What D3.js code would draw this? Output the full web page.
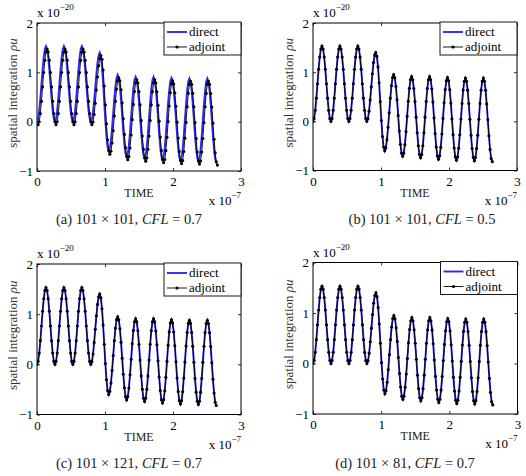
<!DOCTYPE html>
<html><head><meta charset="utf-8">
<script src="https://cdn.jsdelivr.net/npm/d3@7"></script>
<style>
body{margin:0;background:#fff}
svg text{font-family:"Liberation Serif","Times New Roman",Times,"DejaVu Serif",serif !important}
</style>
</head><body>
<svg id="chart" width="526" height="476"></svg>
<script>
// time between samples, in units of 1e-7
const timeStep = 0.01648;

// direct solution, spatial integration of rho*u (units 1e-20)
const direct = [
0, 0.058, 0.224, 0.472, 0.765, 1.058, 1.306, 1.472, 1.53,
1.472, 1.306, 1.058, 0.765, 0.472, 0.224, 0.058, 0,
0.058, 0.224, 0.472, 0.765, 1.058, 1.306, 1.472, 1.53,
1.472, 1.306, 1.058, 0.765, 0.472, 0.224, 0.058, 0,
0.058, 0.224, 0.472, 0.765, 1.058, 1.306, 1.472, 1.53,
1.472, 1.306, 1.058, 0.765, 0.472, 0.224, 0.058, 0,
0.053, 0.205, 0.432, 0.70, 0.968, 1.195, 1.347, 1.40,
1.324, 1.107, 0.783, 0.40, 0.017, -0.307, -0.524, -0.60,
-0.541, -0.373, -0.122, 0.175, 0.472, 0.723, 0.891, 0.95,
0.887, 0.707, 0.438, 0.12, -0.198, -0.467, -0.647, -0.71,
-0.648, -0.473, -0.210, 0.10, 0.410, 0.673, 0.848, 0.91,
0.847, 0.668, 0.401, 0.085, -0.231, -0.498, -0.677, -0.74,
-0.677, -0.498, -0.231, 0.085, 0.401, 0.668, 0.847, 0.91,
0.846, 0.664, 0.391, 0.07, -0.251, -0.524, -0.706, -0.77,
-0.707, -0.527, -0.258, 0.06, 0.378, 0.647, 0.827, 0.89,
0.826, 0.644, 0.371, 0.05, -0.271, -0.544, -0.726, -0.79,
-0.726, -0.546, -0.274, 0.045, 0.364, 0.636, 0.816, 0.88,
0.816, 0.634, 0.361, 0.04, -0.281, -0.554, -0.736, -0.80,
-0.736, -0.554, -0.281, 0.04, 0.361, 0.634, 0.816, 0.88,
0.815, 0.631, 0.355, 0.03, -0.295, -0.571, -0.755, -0.82
];

// adjoint, panel (a): lags the direct solution slightly and sits a bit lower
const adjointA = [
-0.06,
-0.06, -0.002, 0.164, 0.412, 0.705, 0.998, 1.246, 1.412, 1.47,
1.412, 1.246, 0.998, 0.705, 0.412, 0.164, -0.002, -0.06,
-0.002, 0.164, 0.412, 0.705, 0.998, 1.246, 1.412, 1.47,
1.412, 1.246, 0.998, 0.705, 0.412, 0.164, -0.002, -0.06,
-0.002, 0.164, 0.412, 0.705, 0.998, 1.246, 1.412, 1.47,
1.412, 1.246, 0.998, 0.705, 0.412, 0.164, -0.002, -0.06,
-0.007, 0.145, 0.372, 0.64, 0.908, 1.135, 1.287, 1.34,
1.264, 1.047, 0.723, 0.34, -0.043, -0.367, -0.584, -0.66,
-0.601, -0.433, -0.182, 0.115, 0.412, 0.663, 0.831, 0.89,
0.827, 0.647, 0.378, 0.06, -0.258, -0.527, -0.707, -0.77,
-0.708, -0.533, -0.27, 0.04, 0.35, 0.613, 0.788, 0.85,
0.787, 0.608, 0.341, 0.025, -0.291, -0.558, -0.737, -0.80,
-0.737, -0.558, -0.291, 0.025, 0.341, 0.608, 0.787, 0.85,
0.786, 0.604, 0.331, 0.01, -0.311, -0.584, -0.766, -0.83,
-0.767, -0.587, -0.318, 0.0, 0.318, 0.587, 0.767, 0.83,
0.766, 0.584, 0.311, -0.01, -0.331, -0.604, -0.786, -0.85,
-0.786, -0.606, -0.334, -0.015, 0.304, 0.576, 0.756, 0.82,
0.756, 0.574, 0.301, -0.02, -0.341, -0.614, -0.796, -0.86,
-0.796, -0.614, -0.341, -0.02, 0.301, 0.574, 0.756, 0.82,
0.755, 0.571, 0.295, -0.03, -0.355, -0.631, -0.815, -0.88
];

// adjoint for panels (b), (c), (d): read as coinciding with the direct curve
const adjointB = direct;
const adjointC = direct;
const adjointD = direct;

const xTicks = [0, 1, 2, 3];
const yTicks = [-1, 0, 1, 2];
const seriesNames = ["direct", "adjoint"];
const captionLetters = ["(a)", "(b)", "(c)", "(d)"];
const captionGrids = ["101 × 101", "101 × 101", "101 × 121", "101 × 81"];
const captionCFL = ["0.7", "0.5", "0.7", "0.7"];
const adjoints = [adjointA, adjointB, adjointC, adjointD];

const layouts = [
  {x0:37,  x1:241,   y0:23,    y1:171,   capX:129, capY:224},
  {x0:313, x1:517,   y0:23,    y1:170.5, capX:422, capY:224},
  {x0:37,  x1:241,   y0:264,   y1:414.5, capX:129, capY:468},
  {x0:313, x1:517.5, y0:262.5, y1:414,   capX:405, capY:468}
];

const FONT = '"Liberation Serif","Times New Roman",Times,"DejaVu Serif",serif';
const svg = d3.select("#chart");
const BLUE = "#2a2af5";

layouts.forEach((L, i) => {
  const x = d3.scaleLinear().domain([0, 3]).range([L.x0, L.x1]);
  const y = d3.scaleLinear().domain([-1, 2]).range([L.y1, L.y0]);
  const g = svg.append("g");

  const clipId = "clip" + i;
  svg.append("clipPath").attr("id", clipId).append("rect")
    .attr("x", L.x0).attr("y", L.y0).attr("width", L.x1 - L.x0).attr("height", L.y1 - L.y0);

  const line = d3.line().x((d, j) => x(j * timeStep)).y(d => y(d));
  const plot = g.append("g").attr("clip-path", `url(#${clipId})`);
  plot.append("path").datum(direct).attr("d", line)
    .attr("fill", "none").attr("stroke", BLUE).attr("stroke-width", 1.9);
  const adj = adjoints[i];
  plot.append("path").datum(adj).attr("d", line)
    .attr("fill", "none").attr("stroke", "#000").attr("stroke-width", 0.9);
  plot.selectAll("circle").data(adj).join("circle")
    .attr("cx", (d, j) => x(j * timeStep)).attr("cy", d => y(d))
    .attr("r", 1.55).attr("fill", "#000");

  // axes (ticks inside, box on)
  const fmt = d3.format("d");
  const ax = (gen) => gen.tickSizeOuter(0).tickSizeInner(-3);
  g.append("g").attr("transform", `translate(0,${L.y1})`)
    .call(ax(d3.axisBottom(x).tickValues(xTicks).tickFormat(fmt)).tickPadding(6));
  g.append("g").attr("transform", `translate(${L.x0},0)`)
    .call(ax(d3.axisLeft(y).tickValues(yTicks).tickFormat(fmt)).tickPadding(4));
  g.append("g").attr("transform", `translate(0,${L.y0})`)
    .call(ax(d3.axisTop(x).tickValues(xTicks).tickFormat("")));
  g.append("g").attr("transform", `translate(${L.x1},0)`)
    .call(ax(d3.axisRight(y).tickValues(yTicks).tickFormat("")));
  g.selectAll(".domain").remove();
  g.selectAll("g").attr("font-family", FONT);
  g.selectAll(".tick line").attr("stroke", "#000").attr("stroke-width", 0.8);
  g.selectAll(".tick text").attr("font-size", 13).style("font-family", FONT).attr("fill", "#000");
  g.append("rect").attr("x", L.x0).attr("y", L.y0)
    .attr("width", L.x1 - L.x0).attr("height", L.y1 - L.y0)
    .attr("fill", "none").attr("stroke", "#000").attr("stroke-width", 1);

  // exponent labels
  const e1 = g.append("text").attr("x", L.x0).attr("y", L.y0 - 6).attr("font-size", 13).style("font-family", FONT);
  e1.append("tspan").text("x 10");
  e1.append("tspan").attr("dy", -7).attr("font-size", 9).text("−20");
  const e2 = g.append("text").attr("x", L.x1).attr("y", L.y1 + 34)
    .attr("font-size", 13).attr("text-anchor", "end").style("font-family", FONT);
  e2.append("tspan").text("x 10");
  e2.append("tspan").attr("dy", -7).attr("font-size", 9).text("−7");

  // axis labels
  g.append("text").attr("x", (L.x0 + L.x1) / 2).attr("y", L.y1 + 26).style("font-family", FONT)
    .attr("text-anchor", "middle").attr("font-size", 12).attr("fill", "#222").text("TIME");
  const yl = g.append("text").style("font-family", FONT)
    .attr("transform", `translate(${L.x0 - 20},${(L.y0 + L.y1) / 2 - 4}) rotate(-90)`)
    .attr("text-anchor", "middle").attr("font-size", 13).attr("fill", "#333");
  yl.append("tspan").text("spatial integration ");
  yl.append("tspan").attr("font-style", "italic").text("ρu");

  // legend
  const lg = g.append("g").attr("transform", `translate(${L.x1 - 77},${L.y0 - 1})`);
  lg.append("rect").attr("width", 77).attr("height", 33)
    .attr("fill", "#fff").attr("stroke", "#000").attr("stroke-width", 0.9);
  seriesNames.forEach((name, k) => {
    const yy = 10 + k * 15;
    lg.append("line").attr("x1", 3).attr("x2", 23).attr("y1", yy).attr("y2", yy)
      .attr("stroke", k === 0 ? BLUE : "#000").attr("stroke-width", k === 0 ? 1.9 : 0.9);
    if (k === 1) lg.append("circle").attr("cx", 13).attr("cy", yy).attr("r", 1.6).attr("fill", "#000");
    lg.append("text").attr("x", 25).attr("y", yy + 4).attr("font-size", 13).style("font-family", FONT).text(name);
  });

  // caption
  const cap = svg.append("text").attr("x", L.capX).attr("y", L.capY).style("font-family", FONT)
    .attr("text-anchor", "middle").attr("font-size", 14.5).attr("fill", "#222");
  cap.append("tspan").text(`${captionLetters[i]} ${captionGrids[i]}, `);
  cap.append("tspan").attr("font-style", "italic").text("CFL");
  cap.append("tspan").text(` = ${captionCFL[i]}`);
});
</script>
</body></html>
